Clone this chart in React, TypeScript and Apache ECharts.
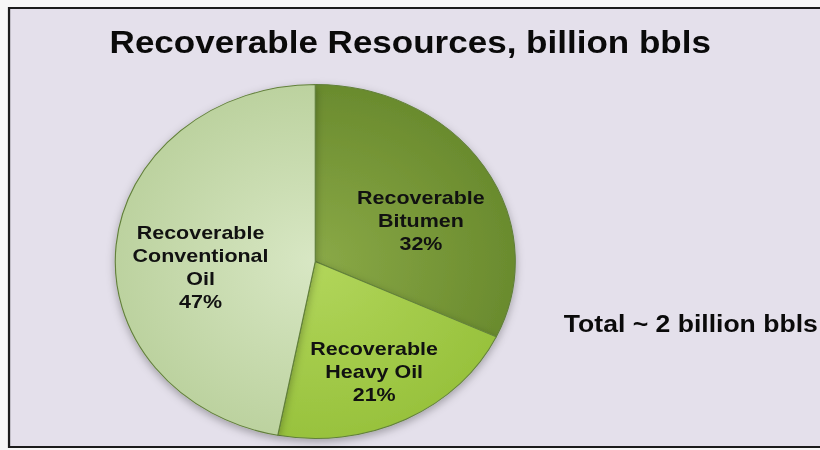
import React, { useEffect, useRef } from "react";
import * as echarts from "echarts";

// ---- data ----
const categories = [
  "Recoverable\nBitumen",
  "Recoverable\nHeavy Oil",
  "Recoverable\nConventional\nOil",
];
const shares = [32, 21, 47];
const centerColors = ["#8aa947", "#b2d65b", "#d8e7c4"];
const edgeColors = ["#6a8b2e", "#98c23d", "#bcd29f"];
const titleText = "Recoverable Resources, billion bbls";
const noteText = "Total ~ 2 billion bbls";

// the reference picture is stretched horizontally
const STRETCH = 1.13;
const W = 820 / STRETCH;
const H = 450;

const PIE_CX = 279;
const PIE_CY = 261.5;
const PIE_R = 177;

export default function App() {
  const ref = useRef<HTMLDivElement>(null);

  useEffect(() => {
    document.body.style.margin = "0";
    const chart = echarts.init(ref.current as HTMLDivElement, null, { renderer: "svg" });

    const pieData = categories.map((name, i) => ({
      name,
      value: shares[i],
      itemStyle: {
        color: new echarts.graphic.RadialGradient(
          PIE_CX,
          PIE_CY,
          PIE_R,
          [
            { offset: 0, color: centerColors[i] },
            { offset: 1, color: edgeColors[i] },
          ],
          true
        ),
      },
    }));

    const labelData = categories.map((name, i) => ({ name, value: shares[i] }));

    chart.setOption({
      animation: false,
      backgroundColor: "transparent",
      graphic: [
        {
          type: "rect",
          z: -10,
          shape: { x: 8, y: 8, width: 760, height: 439 },
          style: { fill: "#e4e0eb", stroke: "#1c1c1c", lineWidth: 2 },
        },
        {
          type: "text",
          z: 10,
          x: 97,
          y: 42,
          style: {
            text: titleText,
            fontFamily: "Liberation Sans, Arial, sans-serif",
            fontWeight: "bold",
            fontSize: 31,
            fill: "#0a0a0a",
            textAlign: "left",
            textVerticalAlign: "middle",
          },
        },
        {
          type: "text",
          z: 10,
          x: 499,
          y: 324,
          style: {
            text: noteText,
            fontFamily: "Liberation Sans, Arial, sans-serif",
            fontWeight: "bold",
            fontSize: 23.5,
            fill: "#0a0a0a",
            textAlign: "left",
            textVerticalAlign: "middle",
          },
        },
      ],
      series: [
        {
          type: "pie",
          z: 2,
          center: [PIE_CX, PIE_CY],
          radius: PIE_R,
          startAngle: 90,
          clockwise: true,
          silent: true,
          label: { show: false },
          labelLine: { show: false },
          itemStyle: {
            borderColor: "#62803a",
            borderWidth: 1,
            shadowBlur: 8,
            shadowColor: "rgba(0,0,0,0.3)",
            shadowOffsetY: 3,
          },
          data: pieData,
        },
        {
          type: "pie",
          z: 5,
          center: [283, 277],
          radius: 206,
          startAngle: 90,
          clockwise: true,
          silent: true,
          avoidLabelOverlap: false,
          itemStyle: { color: "rgba(0,0,0,0)", borderWidth: 0 },
          labelLine: { show: false },
          label: {
            show: true,
            position: "inside",
            formatter: (p: any) => `${p.name}\n${p.value}%`,
            fontFamily: "Liberation Sans, Arial, sans-serif",
            fontWeight: "bold",
            fontSize: 19,
            lineHeight: 23,
            color: "#111111",
          },
          data: labelData,
        },
      ],
    });

    return () => chart.dispose();
  }, []);

  return (
    <div style={{ width: 820, height: 450, overflow: "hidden", background: "#f7f7f7" }}>
      <div
        ref={ref}
        style={{
          width: W,
          height: H,
          transform: `scaleX(${STRETCH})`,
          transformOrigin: "0 0",
        }}
      />
    </div>
  );
}
